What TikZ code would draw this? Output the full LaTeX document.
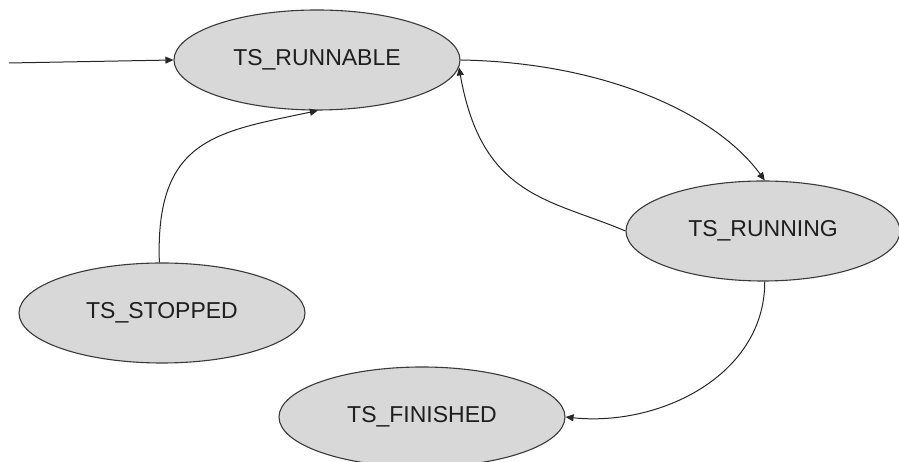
\documentclass[tikz,border=0pt]{standalone}
\usepackage{fontspec}
\setmainfont{Liberation Sans}
\usetikzlibrary{shapes.geometric,arrows.meta}
\definecolor{statefill}{HTML}{D8D8D8}
\definecolor{statedraw}{HTML}{3A3A3A}
\definecolor{statetext}{HTML}{1E1E1E}
\definecolor{edgecolor}{HTML}{262626}
\begin{document}
\begin{tikzpicture}[x=1pt,y=1pt,
  state/.style={ellipse,draw=statedraw,line width=1.1pt,fill=statefill,
    minimum width=286pt,minimum height=100pt,inner sep=0pt,
    font=\fontsize{23}{27}\selectfont,text=statetext},
  trans/.style={draw=edgecolor,line width=1pt,
    -{Triangle[length=8pt,width=7pt]}}]
\useasboundingbox (0,0) rectangle (899,462);

% thread states
\node[state] (runnable) at (317,402) {TS\_RUNNABLE};
\node[state,minimum width=274pt] (running) at (763,231) {TS\_RUNNING};
\node[state] (stopped) at (162,149) {TS\_STOPPED};
\node[state] (finished) at (422,45) {TS\_FINISHED};

% initial transition
\coordinate (init) at (9,399);
\draw[trans] (init) -- (runnable.west);

% transitions between states
\draw[trans] (stopped.93) to[out=92,in=192,out looseness=1.45,in looseness=1.2] (runnable.271);
\draw[trans] (runnable.east) to[out=-1,in=126,out looseness=1.15,in looseness=0.63] (running.88);
\draw[trans] (running.west) to[out=157,in=-80,out looseness=0.9,in looseness=1.45] (runnable.-3);
\draw[trans] (running.-88) to[out=-90,in=-6] (finished.east);
\end{tikzpicture}
\end{document}
